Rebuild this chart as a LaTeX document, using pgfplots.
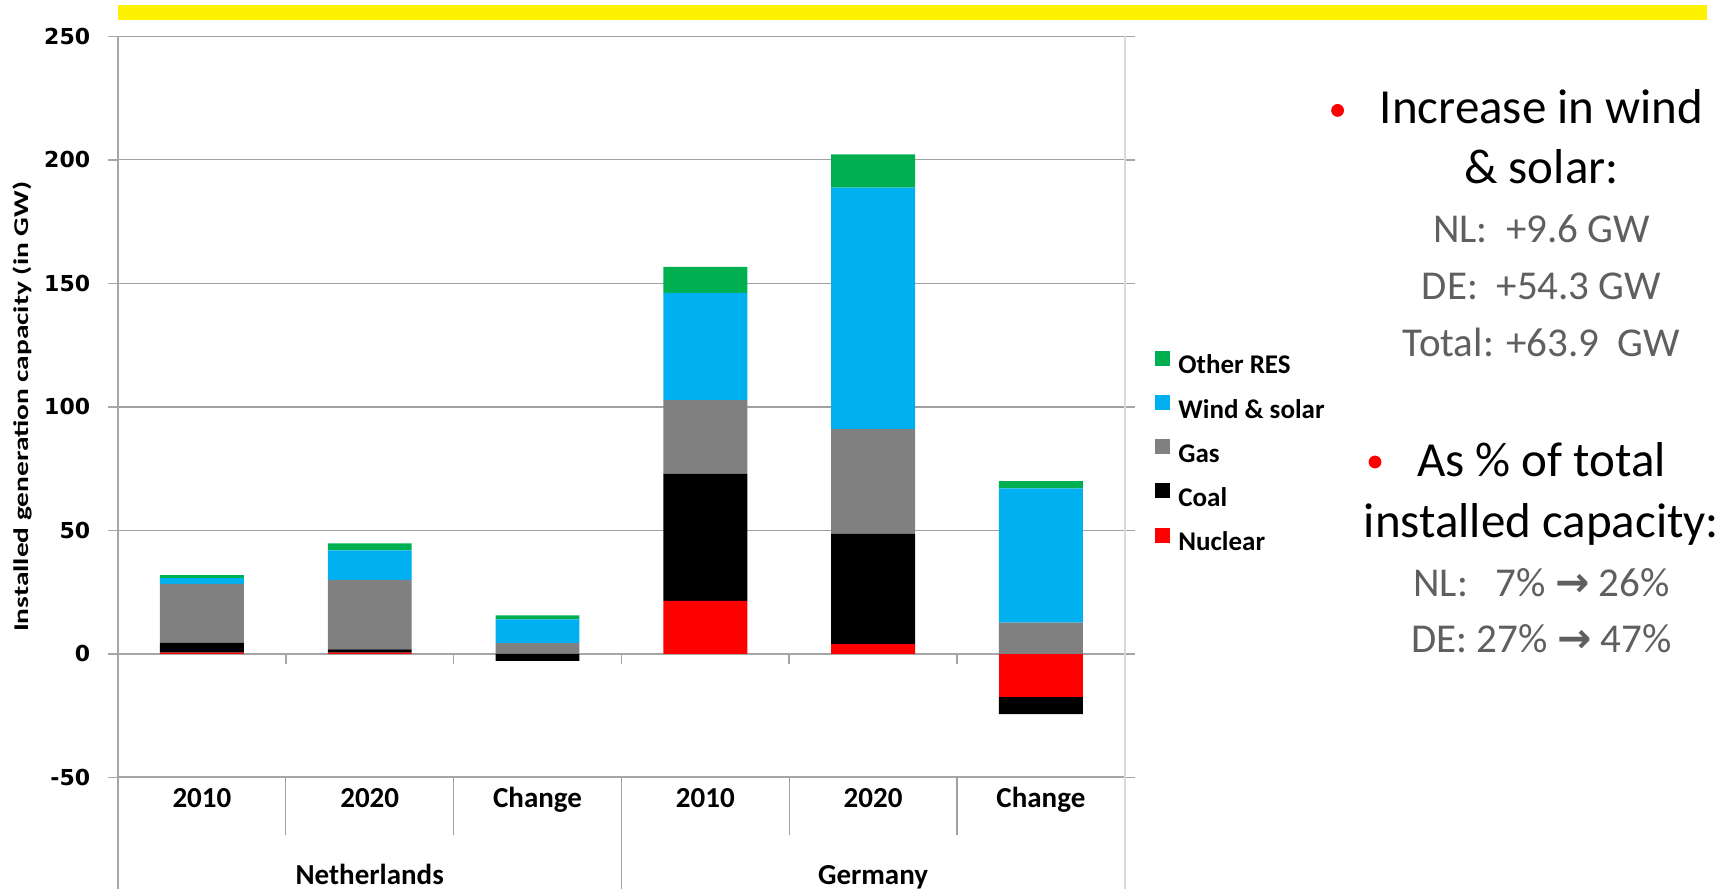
\documentclass[border=0pt]{standalone}
\usepackage{fontspec}
\setmainfont{Carlito}
\newfontfamily\dejavu{DejaVu Sans}
\newfontfamily\ylabfont[FakeStretch=1.4]{Carlito}
\usepackage{pgfplots}
\pgfplotsset{compat=1.18}
\definecolor{cOther}{HTML}{00B050}
\definecolor{cWind}{HTML}{00B0F0}
\definecolor{cGas}{HTML}{808080}
\definecolor{cCoal}{HTML}{000000}
\definecolor{cNuc}{HTML}{FF0000}
\definecolor{gridgray}{HTML}{A0A0A0}
\definecolor{axgray}{HTML}{A6A6A6}
\definecolor{sepgray}{HTML}{A0A0A0}
\definecolor{lightline}{HTML}{D9D9D9}
\definecolor{txtgray}{HTML}{5F5F5F}
\pgfplotsset{
  chartbase/.style={
    scale only axis, width=503.4pt, height=370.5pt,
    at={(59pt,55.8pt)}, anchor=south west,
    xmin=-0.5, xmax=5.5, ymin=-50, ymax=250,
    ybar stacked, bar width=0.5, clip=false,
  },
  sq/.style={legend image code/.code={\fill[##1,draw=none] (0pt,0.6pt) rectangle (7.5pt,8.1pt);}},
}
\begin{document}
\begin{tikzpicture}
\useasboundingbox (0,0) rectangle (864.5pt,444.5pt);
\fill[yellow] (59pt,434.5pt) rectangle (853.5pt,441.75pt);
\begin{axis}[chartbase,
  axis line style={draw=none},
  xtick={0,...,5}, xticklabels={2010,2020,Change,2010,2020,Change},
  xtick style={draw=none},
  xticklabel style={font=\bfseries\fontsize{14.5}{16}\selectfont, anchor=base, yshift=-10.15pt},
  ytick={-50,0,50,100,150,200,250},
  /pgf/number format/assume math mode=true,
  yticklabel style={font=\dejavu\bfseries\fontsize{11}{13}\selectfont, anchor=east, xshift=-5.4pt},
  ytick style={draw=axgray, line width=0.75pt},
  tick align=outside, major tick length=5pt,
  ymajorgrids, major grid style={draw=gridgray, line width=0.6pt},
  extra y ticks={-50,0}, extra y tick labels={},
  extra y tick style={major grid style={draw=axgray, line width=1pt}},
  ylabel={Installed generation capacity (in GW)},
  ylabel style={font=\ylabfont\bfseries\fontsize{10.5}{12}\selectfont, at={(axis description cs:-0.0944,0.5)}, anchor=center},
  reverse legend,
  legend cell align=left,
  legend style={at={(axis description cs:1.030,0.4375)}, anchor=west, draw=none, fill=none,
    inner sep=0pt, font=\bfseries\fontsize{13.5}{16}\selectfont, row sep=8pt,
    nodes={inner xsep=4pt, inner ysep=0pt, text height=9.5pt, text depth=2.5pt}},
]
\addplot[fill=cNuc, draw=none, sq] coordinates {(0,0.5) (1,0.5) (2,0) (3,21.5) (4,4.0) (5,0)};
\addlegendentry{Nuclear}
\addplot[fill=cCoal, draw=none, sq] coordinates {(0,4.1) (1,1.3) (2,0) (3,51.5) (4,44.6) (5,0)};
\addlegendentry{Coal}
\addplot[fill=cGas, draw=none, sq] coordinates {(0,23.8) (1,28.2) (2,4.4) (3,29.7) (4,42.4) (5,12.7)};
\addlegendentry{Gas}
\addplot[fill=cWind, draw=none, sq] coordinates {(0,2.3) (1,11.9) (2,9.6) (3,43.5) (4,97.8) (5,54.3)};
\addlegendentry{Wind \& solar}
\addplot[fill=cOther, draw=none, sq] coordinates {(0,1.2) (1,2.8) (2,1.6) (3,10.5) (4,13.4) (5,2.9)};
\addlegendentry{Other RES}
% axes lines and separators
\draw[axgray, line width=1pt] (axis cs:-0.5,250) -- (axis cs:-0.5,-50) -- ++(0pt,-55.8pt);
\draw[lightline, line width=0.75pt] (axis cs:5.5,250) -- (axis cs:5.5,-50) -- ++(0pt,-55.8pt);
\pgfplotsinvokeforeach{0.5,1.5,2.5,3.5,4.5,5.5}{\draw[axgray, line width=0.75pt] (axis cs:#1,0) -- ++(0pt,-5pt);}
\pgfplotsinvokeforeach{0.5,1.5,3.5,4.5}{\draw[sepgray, line width=0.6pt] (axis cs:#1,-50) -- ++(0pt,-29pt);}
\draw[sepgray, line width=0.6pt] (axis cs:2.5,-50) -- ++(0pt,-55.8pt);
\node[anchor=base, font=\bfseries\fontsize{14.5}{16}\selectfont, yshift=-53.5pt] at (axis cs:1,-50) {Netherlands};
\node[anchor=base, font=\bfseries\fontsize{14.5}{16}\selectfont, yshift=-53.5pt] at (axis cs:4,-50) {Germany};
\end{axis}
\begin{axis}[chartbase, hide axis]
\addplot[fill=cNuc, draw=none] coordinates {(0,0) (1,0) (2,0) (3,0) (4,0) (5,-17.5)};
\addplot[fill=cCoal, draw=none] coordinates {(0,0) (1,0) (2,-2.8) (3,0) (4,0) (5,-6.9)};
\end{axis}
% right-hand text
\fill[red] (668.8pt,389.3pt) circle (3.2pt);
\fill[red] (687.5pt,213.5pt) circle (3.2pt);
\begin{scope}[every node/.style={anchor=base, inner sep=0pt}]
\node[font=\fontsize{24.5}{29}\selectfont] at (770.75pt,382.7pt) {Increase in wind};
\node[font=\fontsize{24.5}{29}\selectfont] at (770.75pt,352.5pt) {\& solar:};
\node[font=\fontsize{20.5}{24}\selectfont, text=txtgray] at (770.75pt,323.0pt) {NL:\ \ +9.6 GW};
\node[font=\fontsize{20.5}{24}\selectfont, text=txtgray] at (770.75pt,294.7pt) {DE:\ \ +54.3 GW};
\node[font=\fontsize{20.5}{24}\selectfont, text=txtgray] at (770.75pt,266.3pt) {Total: +63.9\ \ GW};
\node[font=\fontsize{24.5}{29}\selectfont] at (770.75pt,206.1pt) {As \% of total};
\node[font=\fontsize{24.5}{29}\selectfont] at (770.75pt,175.7pt) {installed capacity:};
\node[font=\fontsize{20.5}{24}\selectfont, text=txtgray] at (770.75pt,146.0pt) {NL:\ \ \ 7\% {\dejavu\bfseries →} 26\%};
\node[font=\fontsize{20.5}{24}\selectfont, text=txtgray] at (770.75pt,118.2pt) {DE: 27\% {\dejavu\bfseries →} 47\%};
\end{scope}
\end{tikzpicture}
\end{document}
